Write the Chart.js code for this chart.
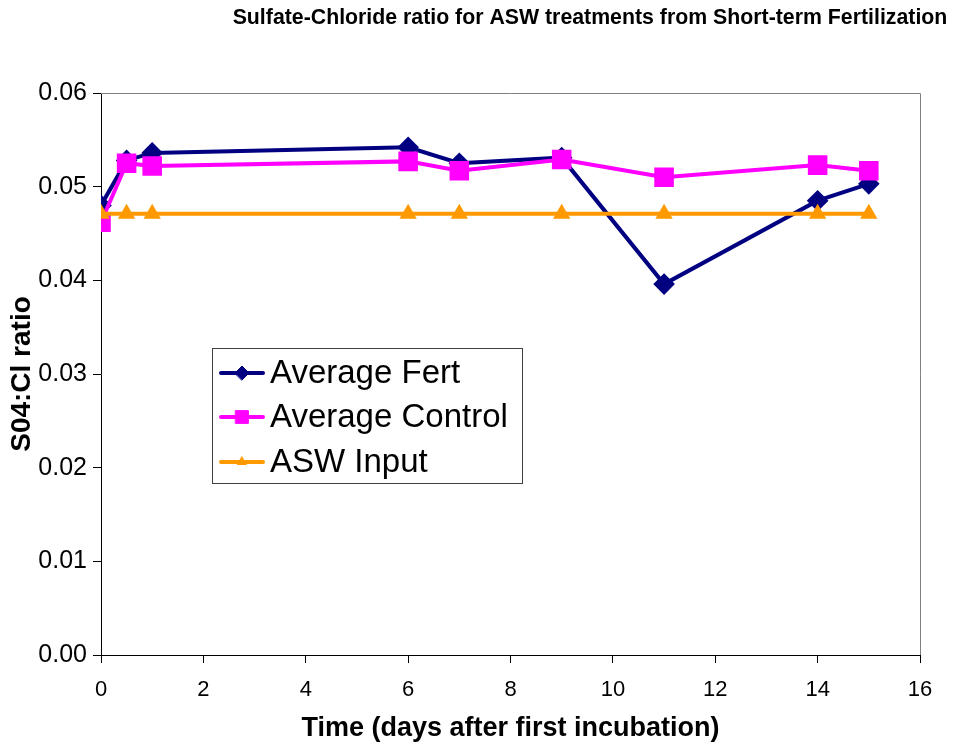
<!DOCTYPE html>
<html lang="en">
<head>
<meta charset="UTF-8">
<title>Sulfate-Chloride ratio</title>
<script src="https://cdn.jsdelivr.net/npm/chart.js"></script>
<style>
  html, body { margin: 0; padding: 0; background: #fff; }
  #wrap { width: 953px; height: 752px; }
</style>
</head>
<body>
<div id="wrap"><canvas id="grafico"></canvas></div>

<script>
// dados
var dias = [0, 0.5, 1, 6, 7, 9, 11, 14, 15];
var mediaFert = [0.0480, 0.0528, 0.0536, 0.0542, 0.0525, 0.0531, 0.0396, 0.0485, 0.0503];
var mediaControle = [0.0462, 0.0525, 0.0522, 0.0527, 0.0517, 0.0529, 0.0510, 0.0523, 0.0517];
var entradaASW = [0.0471, 0.0471, 0.0471, 0.0471, 0.0471, 0.0471, 0.0471, 0.0471, 0.0471];
var nomesSeries = ['Average Fert', 'Average Control', 'ASW Input'];
var titulo = 'Sulfate-Chloride ratio for ASW treatments from Short-term Fertilization';

function pontos(ys) {
    return dias.map(function (x, i) { return { x: x, y: ys[i] }; });
}

// titulo desenhado a mao (nao fica centralizado no canvas)
var pluginTitulo = {
    id: 'titulo',
    afterDraw: function (chart) {
        var ctx = chart.ctx;
        ctx.save();
        ctx.font = 'bold 21.3px Arial, "Liberation Sans", sans-serif';
        ctx.fillStyle = '#000';
        ctx.textAlign = 'center';
        ctx.textBaseline = 'middle';
        ctx.fillText(titulo, 590, 18);
        ctx.restore();
    }
};

// moldura da area do grafico
var pluginMoldura = {
    id: 'moldura',
    beforeDatasetsDraw: function (chart) {
        var a = chart.chartArea, ctx = chart.ctx;
        ctx.save();
        ctx.strokeStyle = '#808080';
        ctx.lineWidth = 1;
        ctx.beginPath();
        ctx.moveTo(a.left, a.top + 0.5);
        ctx.lineTo(a.right + 0.5, a.top + 0.5);
        ctx.lineTo(a.right + 0.5, a.bottom);
        ctx.stroke();
        ctx.restore();
    }
};

// legenda dentro do grafico
var pluginLegenda = {
    id: 'legendaDentro',
    afterDraw: function (chart) {
        var ctx = chart.ctx;
        var x0 = 212, y0 = 348, w = 310, h = 135;
        ctx.save();
        ctx.fillStyle = '#fff';
        ctx.fillRect(x0, y0, w, h);
        ctx.strokeStyle = '#404040';
        ctx.lineWidth = 1;
        ctx.strokeRect(x0 + 0.5, y0 + 0.5, w, h);
        var linhas = [373, 417, 462];
        chart.data.datasets.forEach(function (ds, i) {
            var y = linhas[i];
            ctx.strokeStyle = ds.borderColor;
            ctx.lineWidth = 4;
            ctx.lineCap = 'round';
            ctx.beginPath();
            ctx.moveTo(221, y);
            ctx.lineTo(263, y);
            ctx.stroke();
            ctx.fillStyle = ds.pointBackgroundColor;
            ctx.strokeStyle = ds.pointBorderColor;
            ctx.lineWidth = 1;
            Chart.helpers.drawPoint(ctx, {
                pointStyle: ds.pointStyle,
                radius: ds.legendRadius,
                rotation: 0,
                borderWidth: 1
            }, 242, y);
            ctx.fillStyle = '#000';
            ctx.font = '33px Arial, "Liberation Sans", sans-serif';
            ctx.textAlign = 'left';
            ctx.textBaseline = 'middle';
            ctx.fillText(nomesSeries[i], 270, y + 1);
        });
        ctx.restore();
    }
};

var ctx = document.getElementById('grafico').getContext('2d');

var config = {
    type: 'line',
    data: {
        datasets: [
            {
                label: nomesSeries[0],
                data: pontos(mediaFert),
                borderColor: '#000080',
                backgroundColor: '#000080',
                pointBackgroundColor: '#000080',
                pointBorderColor: '#000080',
                borderWidth: 4,
                pointStyle: 'rectRot',
                pointRadius: 8,
                legendRadius: 7,
                tension: 0,
                order: 3
            },
            {
                label: nomesSeries[1],
                data: pontos(mediaControle),
                borderColor: '#FF00FF',
                backgroundColor: '#FF00FF',
                pointBackgroundColor: '#FF00FF',
                pointBorderColor: '#FF00FF',
                borderWidth: 4,
                pointStyle: 'rect',
                pointRadius: 11,
                legendRadius: 9,
                tension: 0,
                order: 2
            },
            {
                label: nomesSeries[2],
                data: pontos(entradaASW),
                borderColor: '#FF9900',
                backgroundColor: '#FF9900',
                pointBackgroundColor: '#FF9900',
                pointBorderColor: '#FF9900',
                borderWidth: 4,
                pointStyle: 'triangle',
                pointRadius: 6,
                legendRadius: 5,
                tension: 0,
                order: 1
            }
        ]
    },
    options: {
        responsive: true,
        maintainAspectRatio: false,
        animation: false,
        events: [],
        layout: { padding: { top: 93, right: 33, left: 0, bottom: 0 } },
        plugins: {
            legend: { display: false },
            title: { display: false },
            tooltip: { enabled: false }
        },
        scales: {
            x: {
                type: 'linear',
                min: 0,
                max: 16,
                ticks: {
                    stepSize: 2,
                    color: '#000',
                    padding: 14,
                    maxRotation: 0,
                    font: { family: 'Arial, "Liberation Sans", sans-serif', size: 22 }
                },
                grid: { drawOnChartArea: false, tickLength: 8, color: '#000' },
                border: { color: '#000', width: 1 },
                title: {
                    display: true,
                    text: 'Time (days after first incubation)',
                    color: '#000',
                    padding: { top: 0, bottom: 7 },
                    font: { family: 'Arial, "Liberation Sans", sans-serif', size: 27, weight: 'bold' }
                },
                afterFit: function (scale) { scale.height = 97; }
            },
            y: {
                min: 0,
                max: 0.06,
                ticks: {
                    stepSize: 0.01,
                    color: '#000',
                    padding: 6,
                    callback: function (v) { return v.toFixed(2); },
                    font: { family: 'Arial, "Liberation Sans", sans-serif', size: 25 }
                },
                grid: { drawOnChartArea: false, tickLength: 8, color: '#000' },
                border: { color: '#000', width: 1 },
                title: {
                    display: true,
                    text: 'S04:Cl ratio',
                    color: '#000',
                    padding: { top: 5, bottom: 0 },
                    font: { family: 'Arial, "Liberation Sans", sans-serif', size: 28, weight: 'bold' }
                },
                afterFit: function (scale) { scale.width = 101; }
            }
        }
    },
    plugins: [pluginMoldura, pluginLegenda, pluginTitulo]
};

new Chart(ctx, config);
</script>
</body>
</html>
